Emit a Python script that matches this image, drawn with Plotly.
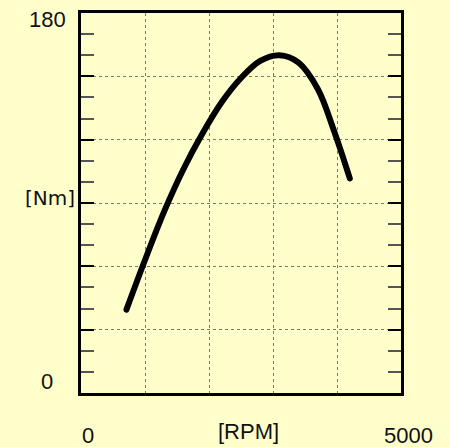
import plotly.graph_objects as go

rpm = [710, 1000, 1300, 1600, 1900, 2200, 2500, 2800, 3100, 3400, 3700, 3950, 4200]
torque = [39.5, 63, 86, 106, 123, 137.8, 149.2, 157.3, 160, 156.5, 144, 124.5, 101.7]

y_tick_vals = [0, 30, 60, 90, 120, 150, 180]
x_tick_vals = [0, 1000, 2000, 3000, 4000, 5000]

BG = "#FFFFCC"
FONT = "Liberation Sans, Arial, sans-serif"

fig = go.Figure()
fig.add_trace(go.Scatter(
    x=rpm, y=torque, mode="lines",
    line=dict(color="black", width=6, shape="spline", smoothing=1.0),
    hoverinfo="skip", showlegend=False,
))

fig.update_layout(
    width=450, height=447,
    margin=dict(l=81, r=49, t=10, b=54),
    paper_bgcolor=BG, plot_bgcolor=BG,
    showlegend=False,
    font=dict(family=FONT, size=22, color="#111111"),
)

fig.update_xaxes(
    range=[0, 5000], tickvals=x_tick_vals, showticklabels=False,
    showgrid=True, gridcolor="#777777", gridwidth=1, griddash="dot",
    showline=True, linecolor="black", linewidth=3, mirror=True,
    ticks="", zeroline=False, fixedrange=True,
)
fig.update_yaxes(
    range=[0, 180], tickvals=y_tick_vals, showticklabels=False,
    showgrid=True, gridcolor="#777777", gridwidth=1, griddash="dot",
    showline=True, linecolor="black", linewidth=3, mirror="ticks",
    ticks="inside", ticklen=13, tickwidth=2, tickcolor="black",
    minor=dict(dtick=10, ticks="inside", ticklen=13, tickwidth=2,
               tickcolor="#555555", showgrid=False),
    zeroline=False, fixedrange=True,
)

ann = [
    dict(text="180", xref="paper", yref="y", x=-0.041, y=176.7,
         xanchor="right", yanchor="middle"),
    dict(text="[Nm]", xref="paper", yref="y", x=-0.012, y=92.6,
         xanchor="right", yanchor="middle",
         font=dict(family="DejaVu Sans, sans-serif", size=20)),
    dict(text="0", xref="paper", yref="y", x=-0.081, y=5.6,
         xanchor="right", yanchor="middle"),
    dict(text="0", xref="paper", yref="paper", x=0.022, y=-0.112,
         xanchor="center", yanchor="middle"),
    dict(text="[RPM]", xref="paper", yref="paper", x=0.522, y=-0.102,
         xanchor="center", yanchor="middle"),
    dict(text="5000", xref="paper", yref="paper", x=1.022, y=-0.112,
         xanchor="center", yanchor="middle"),
]
for a in ann:
    a["showarrow"] = False
    fig.add_annotation(**a)

fig.write_html("out.html", config={"displayModeBar": False, "staticPlot": True})

# remove the default page margin so the figure fills the window
with open("out.html", encoding="utf-8") as f:
    html = f.read()
style = ("<style>html,body{margin:0;padding:0;overflow:hidden;}"
         ".scatterlayer .js-line{stroke-linecap:round;stroke-linejoin:round;}</style>")
html = html.replace("<head>", "<head>" + style, 1)
with open("out.html", "w", encoding="utf-8") as f:
    f.write(html)
